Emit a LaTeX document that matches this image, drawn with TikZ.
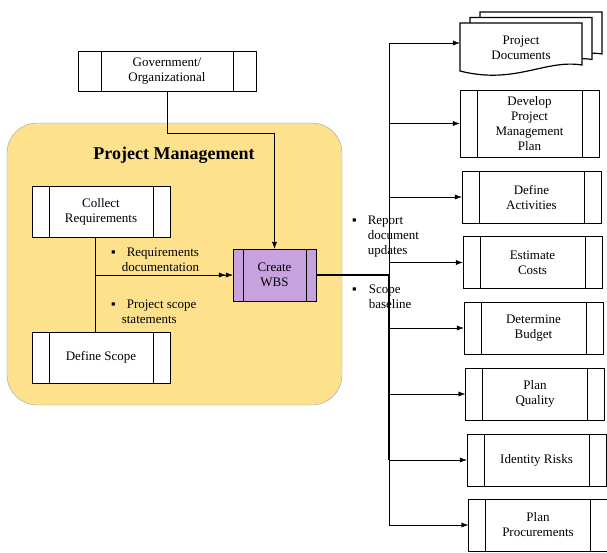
\documentclass[tikz,border=0pt]{standalone}
\usepackage{fontspec}
\setmainfont{Liberation Serif}
\usetikzlibrary{arrows.meta,positioning}
\definecolor{pmyellow}{RGB}{253,225,140}
\definecolor{pmborder}{RGB}{140,168,184}
\definecolor{wbspurple}{RGB}{200,162,222}
\tikzset{
  proc/.style={draw,rectangle,fill=white,minimum width=139pt,minimum height=52pt,
    inner sep=0pt,align=center,
    path picture={
      \draw ([xshift=#1]path picture bounding box.north west) -- ([xshift=#1]path picture bounding box.south west);
      \draw ([xshift=-#1]path picture bounding box.north east) -- ([xshift=-#1]path picture bounding box.south east);
    }},
  proc/.default=17pt,
  link/.style={draw,-{Latex[length=7pt,width=5pt]}},
  dlink/.style={draw,-{Latex[length=7pt,width=5pt]Latex[length=7pt,width=5pt]}},
  bullets/.style={anchor=base west,inner sep=0pt}
}
\newcommand{\sqb}{▪}

\begin{document}
\begin{tikzpicture}[x=1pt,y=-1pt,font=\fontsize{13}{15}\selectfont]
    \useasboundingbox (0,0) rectangle (607,552);
    % Project management area
    \draw[pmborder,fill=pmyellow,rounded corners=30pt] (7,123) rectangle (342,405);
    \node[font=\fontsize{18}{20}\selectfont\bfseries] (title) at (174,155) {Project Management};

    % First we draw the processes
    \node[proc=23pt,minimum width=178pt,minimum height=40pt] (gov) at (167,71) {Government/\\Organizational};
    \node[proc,minimum width=138pt,minimum height=51pt] (collect) at (101,211.5) {Collect\\Requirements};
    \node[proc,minimum width=138pt,minimum height=51pt] (scope) at (101,357.5) {Define Scope};
    \node[proc=10pt,fill=wbspurple,minimum width=83pt] (wbs) at (274.5,275) {Create\\WBS};

    \node[proc,minimum height=67pt] (dev) at (529.5,123.5) {Develop\\Project\\Management\\Plan};
    \foreach \pos/\name/\txt in {{(531.5,197)/act/Define\\Activities}, {(532.5,262.5)/cost/Estimate\\Costs},
        {(533.5,328)/bud/Determine\\Budget}, {(535,394)/qual/Plan\\Quality},
        {(536.5,460)/risk/Identity Risks}, {(538,525)/procure/Plan\\Procurements}}
        \node[proc] (\name) at \pos {\txt};

    % Stacked documents
    \foreach \k in {2,1,0}
        \draw[line width=1.2pt,fill=white,shift={(10*\k,-5.5*\k)}]
            (460,23) -- (582,23) -- (582,65) .. controls (545,59) and (515,85) .. (460,71) -- cycle;
    \node[align=center,inner sep=0pt,minimum width=122pt] (docs) at (521,48) {Project\\Documents};

    % Connect processes
    \draw[link] (gov.south) -- ++(0,42) -| (wbs.north);
    \coordinate (join) at (95,275);
    \draw (collect.south -| join) -- (join);
    \draw (scope.north -| join) -- (join);
    \draw[dlink] (join) -- (wbs.west);

    \coordinate (bustop) at (389,43);
    \draw (bustop) -- (procure.west -| bustop);
    \draw[line width=1.5pt] (wbs.east) -- (wbs.east -| bustop) -- (risk.west -| bustop);
    \draw[link] (bustop) -- ([yshift=5pt]docs.west);
    \foreach \dest in {dev,act,cost,bud,qual,risk,procure}
        \draw[link] (\dest.west -| bustop) -- (\dest.west);

    % Outputs
    \node[bullets] (reqlbl) at (111,256) {\begin{tabular}[t]{@{}l@{\hspace{6pt}}l@{}}\sqb & \hspace{5pt}Requirements\\ & documentation\end{tabular}};
    \node[bullets] (stmtlbl) at (111,308) {\begin{tabular}[t]{@{}l@{\hspace{6pt}}l@{}}\sqb & \hspace{5pt}Project scope\\ & statements\end{tabular}};
    \node[bullets] (reportlbl) at (352,224.5) {\begin{tabular}[t]{@{}l@{\hspace{11pt}}l@{}}\sqb & Report\\ & document\\ & updates\end{tabular}};
    \node[bullets] (baselbl) at (352,293.5) {\begin{tabular}[t]{@{}l@{\hspace{12pt}}l@{}}\sqb & Scope\\ & baseline\end{tabular}};
\end{tikzpicture}
\end{document}
